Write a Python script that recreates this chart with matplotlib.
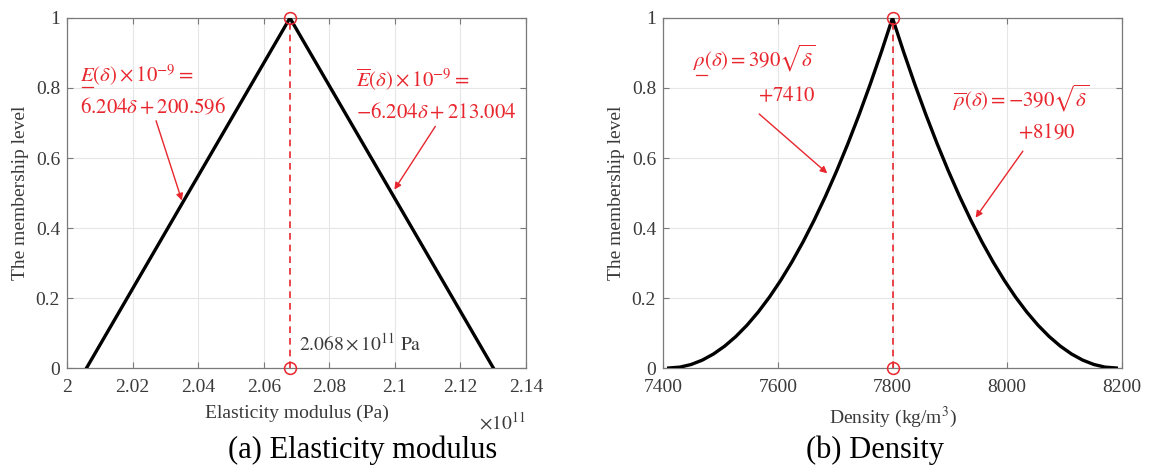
import matplotlib.pyplot as plt
from matplotlib.lines import Line2D

plt.rcParams['font.family'] = ['Liberation Serif', 'DejaVu Serif']
plt.rcParams['mathtext.fontset'] = 'stix'

# (a) elasticity modulus, in units of 1e11 Pa
delta_e = [0.0, 1.0, 0.0]
modulus = [2.00596, 2.068, 2.13004]
e_peak = 2.068

# (b) density, kg/m^3
delta_rho = [0.0, 0.0025, 0.01, 0.0225, 0.04, 0.0625, 0.09, 0.1225, 0.16, 0.2025, 0.25,
             0.3025, 0.36, 0.4225, 0.49, 0.5625, 0.64, 0.7225, 0.81, 0.9025, 1.0]
rho_lower = [7410, 7429.5, 7449, 7468.5, 7488, 7507.5, 7527, 7546.5, 7566, 7585.5, 7605,
             7624.5, 7644, 7663.5, 7683, 7702.5, 7722, 7741.5, 7761, 7780.5, 7800]
rho_upper = [8190, 8170.5, 8151, 8131.5, 8112, 8092.5, 8073, 8053.5, 8034, 8014.5, 7995,
             7975.5, 7956, 7936.5, 7917, 7897.5, 7878, 7858.5, 7839, 7819.5, 7800]
rho_peak = 7800

RED = '#e8262d'
GRAY = '#7a7a7a'
TXT = '#3a3a3a'
FS = 14

fig = plt.figure(figsize=(11.52, 4.69), dpi=100)
ax1 = fig.add_axes([67 / 1152, 101 / 469, 459 / 1152, 350 / 469])
ax2 = fig.add_axes([663 / 1152, 101 / 469, 459 / 1152, 350 / 469])


def style(ax):
    ax.set_ylim(0, 1)
    ax.set_yticks([0, 0.2, 0.4, 0.6, 0.8, 1])
    ax.set_yticklabels(['0', '0.2', '0.4', '0.6', '0.8', '1'])
    ax.grid(True, color='#e6e6e6', lw=0.8)
    ax.set_axisbelow(True)
    for s in ax.spines.values():
        s.set_color(GRAY)
        s.set_linewidth(0.9)
    ax.tick_params(direction='in', top=True, right=True, length=4, color=GRAY,
                   labelcolor=TXT, labelsize=FS)
    ax.tick_params(axis='x', pad=8)
    ax.tick_params(axis='y', pad=5)
    ax.set_ylabel('The membership level', fontsize=FS, color=TXT, labelpad=5)


# ---- (a)
style(ax1)
ax1.plot(modulus, delta_e, color='black', lw=2.4, zorder=3)
ax1.plot([e_peak, e_peak], [0, 1], color=RED, ls='--', lw=1.2, dashes=(4, 3), zorder=4)
ax1.plot([e_peak, e_peak], [0, 1], 'o', mfc='none', mec=RED, ms=8.5, mew=1.1, zorder=5, clip_on=False)
ax1.set_xlim(2.0, 2.14)
ax1.set_xticks([2.0, 2.02, 2.04, 2.06, 2.08, 2.1, 2.12, 2.14])
ax1.set_xticklabels(['2', '2.02', '2.04', '2.06', '2.08', '2.1', '2.12', '2.14'])
ax1.set_xlabel('Elasticity modulus (Pa)', fontsize=FS, color=TXT, labelpad=6)
ax1.text(1.0, -0.155, r'$\times10^{11}$', transform=ax1.transAxes, ha='right', va='center',
         fontsize=FS, color=TXT)
ax1.text(2.0708, 0.071, r'$\mathrm{2.068\times10^{11}\ Pa}$', fontsize=FS, color=TXT, va='center')

ax1.text(2.0039, 0.835, r'$E\left(\delta\right)\times10^{-9}=$', color=RED, fontsize=15, va='center')
ax1.add_line(Line2D([2.0046, 2.0079], [0.803, 0.803], color=RED, lw=0.9))
ax1.text(2.0039, 0.743, r'$6.204\delta+200.596$', color=RED, fontsize=15, va='center')
ax1.annotate('', xy=(2.0353, 0.471), xytext=(2.0269, 0.714),
             arrowprops=dict(arrowstyle='-|>', color=RED, lw=1.0, mutation_scale=10))

ax1.text(2.0881, 0.826, r'$\overline{E}\left(\delta\right)\times10^{-9}=$', color=RED, fontsize=15, va='center')
ax1.text(2.0881, 0.728, r'$-6.204\delta+213.004$', color=RED, fontsize=15, va='center')
ax1.annotate('', xy=(2.0994, 0.503), xytext=(2.1128, 0.697),
             arrowprops=dict(arrowstyle='-|>', color=RED, lw=1.0, mutation_scale=10))

# ---- (b)
style(ax2)
ax2.plot(rho_lower, delta_rho, color='black', lw=2.4, zorder=3)
ax2.plot(rho_upper, delta_rho, color='black', lw=2.4, zorder=3)
ax2.plot([rho_peak, rho_peak], [0, 1], color=RED, ls='--', lw=1.2, dashes=(4, 3), zorder=4)
ax2.plot([rho_peak, rho_peak], [0, 1], 'o', mfc='none', mec=RED, ms=8.5, mew=1.1, zorder=5, clip_on=False)
ax2.set_xlim(7400, 8200)
ax2.set_xticks([7400, 7600, 7800, 8000, 8200])
ax2.set_xlabel(r'Density (kg/m$^3$)', fontsize=FS, color=TXT, labelpad=6)

ax2.text(7452, 0.885, r'$\rho\left(\delta\right)=390\sqrt{\delta}$', color=RED, fontsize=15, va='center')
ax2.add_line(Line2D([7458, 7476], [0.836, 0.836], color=RED, lw=0.9))
ax2.text(7566, 0.777, r'$+7410$', color=RED, fontsize=15, va='center')
ax2.annotate('', xy=(7690, 0.551), xytext=(7564, 0.731),
             arrowprops=dict(arrowstyle='-|>', color=RED, lw=1.0, mutation_scale=10))

ax2.text(7905, 0.771, r'$\overline{\rho}\left(\delta\right)=-390\sqrt{\delta}$', color=RED, fontsize=15, va='center')
ax2.text(8018, 0.671, r'$+8190$', color=RED, fontsize=15, va='center')
ax2.annotate('', xy=(7942, 0.423), xytext=(8030, 0.626),
             arrowprops=dict(arrowstyle='-|>', color=RED, lw=1.0, mutation_scale=10))

fig.text(363 / 1152, 1 - 450 / 469, '(a) Elasticity modulus', fontsize=22, ha='center', va='center')
fig.text(875 / 1152, 1 - 450 / 469, '(b) Density', fontsize=22, ha='center', va='center')

fig.savefig('out.png', dpi=100)
